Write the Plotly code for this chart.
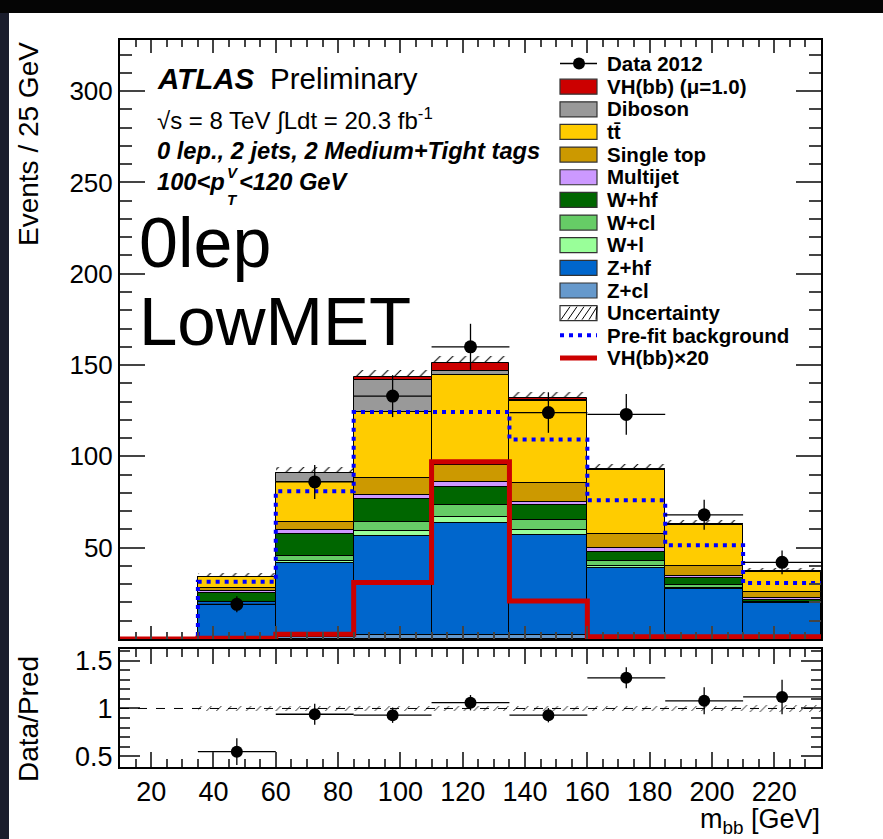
import plotly.graph_objects as go
import numpy as np

# ---------------- data ----------------
bin_edges = [10, 35, 60, 85, 110, 135, 160, 185, 210, 235]
bin_centers = [22.5, 47.5, 72.5, 97.5, 122.5, 147.5, 172.5, 197.5, 222.5]

zcl     = [0, 0.5, 1.0, 2.0, 2.0, 2.0, 1.5, 1.2, 1.0]
zhf     = [0, 19.5, 40.8, 54.4, 61.3, 54.9, 37.2, 26.0, 18.5]
wl      = [0, 0.2, 1.1, 2.7, 3.6, 2.7, 1.3, 0.9, 0.2]
wcl     = [0, 0.3, 2.5, 4.7, 6.4, 5.5, 2.7, 1.5, 0.3]
whf     = [0, 4.9, 11.9, 12.6, 10.0, 8.2, 5.1, 4.0, 1.5]
multijet = [0, 0.7, 2.2, 2.7, 2.4, 1.8, 2.2, 1.1, 0.7]
singletop = [0, 2.0, 4.7, 8.8, 9.8, 10.4, 7.3, 5.5, 3.3]
ttbar   = [0, 5.8, 21.5, 36.4, 48.8, 45.0, 35.5, 22.5, 11.4]
diboson = [0, 0.2, 5.3, 17.7, 2.3, 0.5, 0.2, 0.2, 0.2]
vh      = [0, 0.05, 0.1, 1.5, 4.8, 1.0, 0.1, 0.05, 0.05]
uncert  = [0, 1.8, 3.0, 3.6, 3.5, 3.2, 2.8, 2.2, 1.6]

prefit  = [0, 31.4, 80.9, 124.3, 124.3, 109.3, 76.0, 51.4, 30.7]
vh_x20  = [0, 0.4, 2.6, 30.9, 97.0, 20.8, 1.3, 1.3, 1.3]

data_x   = [47.5, 72.5, 97.5, 122.5, 147.5, 172.5, 197.5, 222.5]
data_y   = [19, 86, 133, 160, 124, 123, 68, 42]
data_err = [4.4, 9.3, 11.5, 12.6, 11.1, 11.1, 8.2, 6.5]

ratio_y   = [0.55, 0.94, 0.93, 1.06, 0.93, 1.32, 1.08, 1.12]
ratio_err = [0.14, 0.11, 0.08, 0.08, 0.075, 0.11, 0.14, 0.18]
ratio_unc = [0.03, 0.03, 0.025, 0.025, 0.025, 0.03, 0.03, 0.04]

x_ticks = [20, 40, 60, 80, 100, 120, 140, 160, 180, 200, 220]
y_ticks = [0, 50, 100, 150, 200, 250, 300]
y_ticktext = ["", "50", "100", "150", "200", "250", "300"]
r_ticks = [0.5, 1, 1.5]
r_ticktext = ["0.5", "1", "1.5"]

# stack definition: bottom to top
stack = [
    ("Z+cl", zcl, "#6699cc"),
    ("Z+hf", zhf, "#0066cc"),
    ("W+l", wl, "#99ff99"),
    ("W+cl", wcl, "#66cc66"),
    ("W+hf", whf, "#006600"),
    ("Multijet", multijet, "#cc99ff"),
    ("Single top", singletop, "#cc9900"),
    ("tt\u0304", ttbar, "#ffcc00"),
    ("Diboson", diboson, "#999999"),
    ("VH(bb) (\u03bc=1.0)", vh, "#cc0000"),
]

FONT = "Liberation Sans, Arial, Helvetica, sans-serif"

W, H = 883, 839
ML, MR, MT, MB = 120, 62, 40, 72
PW = W - ML - MR
PH = H - MT - MB


def px(x):
    return (x - ML) / PW


def py(y):
    return (H - MB - y) / PH


fig = go.Figure()

widths = [e2 - e1 for e1, e2 in zip(bin_edges[:-1], bin_edges[1:])]
base = np.zeros(len(bin_centers))
for name, vals, col in stack:
    v = np.array(vals, dtype=float)
    fig.add_trace(go.Bar(x=bin_centers, y=v, base=base.copy(), width=widths,
                         marker=dict(color=col, line=dict(color="black", width=1)),
                         xaxis="x", yaxis="y", showlegend=False, name=name))
    base = base + v
total = base

# uncertainty hatch above the stack
fig.add_trace(go.Bar(x=bin_centers, y=uncert, base=total, width=widths,
                     marker=dict(color="rgba(0,0,0,0)", line=dict(width=0),
                                 pattern=dict(shape="/", fgcolor="black", bgcolor="rgba(0,0,0,0)",
                                              size=9, solidity=0.12, fillmode="replace")),
                     xaxis="x", yaxis="y", showlegend=False))

# step lines
step_x = list(bin_edges)
fig.add_trace(go.Scatter(x=step_x, y=list(prefit) + [prefit[-1]], mode="lines",
                         line=dict(shape="hv", color="#0000ff", width=4, dash="4px,5px"),
                         xaxis="x", yaxis="y", showlegend=False))
fig.add_trace(go.Scatter(x=step_x, y=list(vh_x20) + [vh_x20[-1]], mode="lines",
                         line=dict(shape="hv", color="#cc0000", width=5),
                         xaxis="x", yaxis="y", showlegend=False))

# data
fig.add_trace(go.Scatter(x=data_x, y=data_y, mode="markers",
                         marker=dict(color="black", size=13),
                         error_x=dict(type="constant", value=12.5, color="black", thickness=1.3, width=0),
                         error_y=dict(type="data", array=data_err, color="black", thickness=1.3, width=0),
                         xaxis="x", yaxis="y", showlegend=False))

# ratio panel
fig.add_trace(go.Bar(x=data_x, y=[2 * u for u in ratio_unc], base=[1 - u for u in ratio_unc], width=25,
                     marker=dict(color="rgba(0,0,0,0)", line=dict(width=0),
                                 pattern=dict(shape="/", fgcolor="black", bgcolor="rgba(0,0,0,0)",
                                              size=7, solidity=0.12, fillmode="replace")),
                     xaxis="x2", yaxis="y2", showlegend=False))
fig.add_trace(go.Scatter(x=data_x, y=ratio_y, mode="markers",
                         marker=dict(color="black", size=12),
                         error_x=dict(type="constant", value=12.5, color="black", thickness=1.3, width=0),
                         error_y=dict(type="data", array=ratio_err, color="black", thickness=1.3, width=0),
                         xaxis="x2", yaxis="y2", showlegend=False))

main_bottom = py(639)
ratio_top = py(649)

axis_common = dict(showline=True, linewidth=2, linecolor="black", mirror="allticks",
                   ticks="inside", showgrid=False, zeroline=False)

fig.update_layout(
    width=W, height=H,
    margin=dict(l=ML, r=MR, t=MT, b=MB, pad=0),
    paper_bgcolor="white", plot_bgcolor="white",
    barmode="overlay", bargap=0,
    font=dict(family=FONT, color="black"),
    xaxis=dict(domain=[0, 1], range=[10, 235], anchor="y", showticklabels=False,
               tickmode="array", tickvals=x_ticks, ticklen=13, tickwidth=2,
               minor=dict(ticks="inside", ticklen=7, tickwidth=1.5, tickmode="linear", tick0=0, dtick=5),
               **axis_common),
    yaxis=dict(domain=[main_bottom, 1], range=[0, 328], anchor="x",
               tickmode="array", tickvals=y_ticks, ticktext=y_ticktext, ticklen=25, tickwidth=2,
               tickfont=dict(family=FONT, size=26),
               minor=dict(ticks="inside", ticklen=12, tickwidth=1.5, tickmode="linear", tick0=0, dtick=10),
               **axis_common),
    xaxis2=dict(domain=[0, 1], range=[10, 235], anchor="y2",
                tickmode="array", tickvals=x_ticks, ticklen=15, tickwidth=2,
                tickfont=dict(family=FONT, size=27),
                minor=dict(ticks="inside", ticklen=8, tickwidth=1.5, tickmode="linear", tick0=0, dtick=5),
                **axis_common),
    yaxis2=dict(domain=[0, ratio_top], range=[0.39, 1.62], anchor="x2",
                tickmode="array", tickvals=r_ticks, ticktext=r_ticktext, ticklen=20, tickwidth=2,
                tickfont=dict(family=FONT, size=27),
                minor=dict(ticks="inside", ticklen=10, tickwidth=1.5, tickmode="linear", tick0=0, dtick=0.1),
                **axis_common),
)

shapes = []
# slide background bands
shapes.append(dict(type="rect", xref="paper", yref="paper", x0=px(0), x1=px(9), y0=py(0), y1=py(H),
                   fillcolor="#1a1d2c", line=dict(width=0), layer="above"))
shapes.append(dict(type="rect", xref="paper", yref="paper", x0=px(0), x1=px(W), y0=py(0), y1=py(13),
                   fillcolor="#050505", line=dict(width=0), layer="above"))
# ratio dashed line at 1
shapes.append(dict(type="line", xref="x2", yref="y2", x0=10, x1=235, y0=1, y1=1,
                   line=dict(color="black", width=1, dash="dash"), layer="above"))

annotations = []

# legend (drawn manually, ATLAS style)
leg_names = ["Data 2012"] + [s[0] for s in reversed(stack)] + ["Uncertainty", "Pre-fit background", "VH(bb)\u00d720"]
leg_colors = [None] + [s[2] for s in reversed(stack)]
row0, drow = 63.5, 22.65
bx0, bx1 = 560, 597
for i, name in enumerate(leg_names):
    yc = row0 + i * drow
    if i == 0:
        shapes.append(dict(type="line", xref="paper", yref="paper", x0=px(bx0), x1=px(bx1),
                           y0=py(yc), y1=py(yc), line=dict(color="black", width=1.5)))
        shapes.append(dict(type="circle", xref="paper", yref="paper", x0=px(573), x1=px(585),
                           y0=py(yc + 6), y1=py(yc - 6), fillcolor="black", line=dict(width=0)))
    elif 1 <= i <= 10:
        shapes.append(dict(type="rect", xref="paper", yref="paper", x0=px(bx0), x1=px(bx1),
                           y0=py(yc + 8), y1=py(yc - 7), fillcolor=leg_colors[i],
                           line=dict(color="#333333", width=1.2)))
    elif name == "Uncertainty":
        shapes.append(dict(type="rect", xref="paper", yref="paper", x0=px(bx0), x1=px(bx1),
                           y0=py(yc + 8), y1=py(yc - 7), fillcolor="white",
                           line=dict(color="#333333", width=1.2)))
        for k in range(6):
            xa = bx0 + 1 + k * 7
            shapes.append(dict(type="line", xref="paper", yref="paper", x0=px(xa), x1=px(min(xa + 9, bx1)),
                               y0=py(yc + 7), y1=py(yc - 6), line=dict(color="black", width=1)))
    elif name.startswith("Pre-fit"):
        shapes.append(dict(type="line", xref="paper", yref="paper", x0=px(bx0), x1=px(bx1),
                           y0=py(yc), y1=py(yc), line=dict(color="#0000ff", width=4, dash="4px,5px")))
    else:
        shapes.append(dict(type="line", xref="paper", yref="paper", x0=px(bx0), x1=px(bx1),
                           y0=py(yc), y1=py(yc), line=dict(color="#cc0000", width=5)))
    annotations.append(dict(xref="paper", yref="paper", x=px(605), y=py(yc), xanchor="left", yanchor="middle",
                            text="<b>" + name + "</b>", showarrow=False,
                            font=dict(family=FONT, size=20.5, color="black")))


# ATLAS label texts
def txt(x, y, text, size, xanchor="left", yanchor="middle", angle=0):
    annotations.append(dict(xref="paper", yref="paper", x=px(x), y=py(y), xanchor=xanchor, yanchor=yanchor,
                            text=text, showarrow=False, textangle=angle,
                            font=dict(family=FONT, size=size, color="black")))


txt(155, 78, "<b><i>ATLAS</i></b>", 29.5)
txt(268, 78, "Preliminary", 29.5)
txt(155, 119, "\u221as = 8 TeV \u222bLdt = 20.3 fb<sup>-1</sup>", 24)
txt(155, 151, "<b><i>0 lep., 2 jets, 2 Medium+Tight tags</i></b>", 23.7)
txt(155, 182, "<b><i>100&lt;p</i></b>", 23.7)
txt(225, 173, "<b><i>V</i></b>", 15)
txt(225, 199, "<b><i>T</i></b>", 15)
txt(237, 182, "<b><i>&lt;120 GeV</i></b>", 23.7)
txt(137, 243, "0lep", 70)
txt(137, 322, "LowMET", 69)

# axis titles
txt(28, 40, "Events / 25 GeV", 28, xanchor="center", yanchor="top", angle=-90)
txt(28, 719, "Data/Pred", 28, xanchor="center", yanchor="middle", angle=-90)
txt(822, 821, "m<sub>bb</sub> [GeV]", 27, xanchor="right", yanchor="middle")

fig.update_layout(shapes=shapes, annotations=annotations)

fig.write_html("out.html", config={"displayModeBar": False},
               post_script="document.body.style.margin='0px';document.body.style.overflow='hidden';")
